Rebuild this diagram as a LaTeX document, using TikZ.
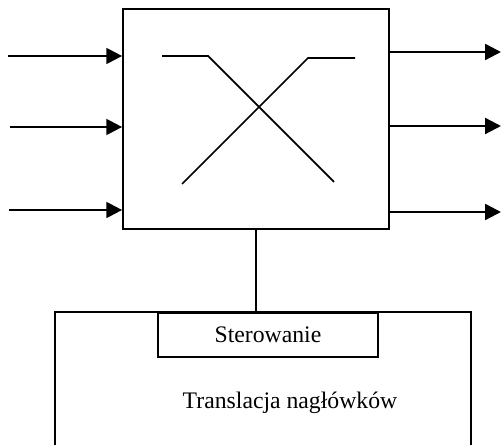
\documentclass[tikz,border=0pt]{standalone}
\usepackage{fontspec}
\setmainfont{Liberation Serif}
\usetikzlibrary{arrows.meta}
\begin{document}
\begin{tikzpicture}[x=0.02cm,y=-0.02cm,
  box/.style={draw,line width=1pt,inner sep=0pt},
  wire/.style={line width=1.3pt},
  arr/.style={wire,-{Triangle[length=9pt,width=9pt]}},
  lbl/.style={font=\fontsize{13.5pt}{16pt}\selectfont,inner sep=0pt}]
  \useasboundingbox (0,0) rectangle (501,445);
  \clip (0,0) rectangle (501,445);
  % switching fabric
  \node[box,minimum width=5.32cm,minimum height=4.4cm] (main) at (256,119) {};
  % crossed paths inside the fabric
  \draw[line width=1pt] (162,56) -- (208,56) -- (334,182);
  \draw[line width=1pt] (182,184) -- (308,58) -- (355,58);
  % inputs
  \coordinate (i1) at (8,56);
  \coordinate (i2) at (10,127);
  \coordinate (i3) at (9,210);
  \foreach \c in {i1,i2,i3} \draw[arr] (\c) -- (\c -| main.west);
  % outputs
  \coordinate (o1) at (501,52);
  \coordinate (o2) at (501,126);
  \coordinate (o3) at (501,212);
  \foreach \c in {o1,o2,o3} \draw[arr] (\c -| main.east) -- (\c);
  % header translation unit (open at the bottom)
  \coordinate (tl) at (55,312);
  \coordinate (tr) at (471,312);
  \draw[line width=1pt] (55,460) -- (tl) -- (tr) -- (471,460);
  \node[box,minimum width=4.4cm,minimum height=0.88cm,anchor=north] (ster) at (268,312) {};
  \node[lbl] at (ster.center) {Sterowanie};
  \node[lbl] (trans) at (290,403) {Translacja nagłówków};
  % control link
  \draw[wire] (main.south) -- (main.south |- ster.north);
\end{tikzpicture}
\end{document}
